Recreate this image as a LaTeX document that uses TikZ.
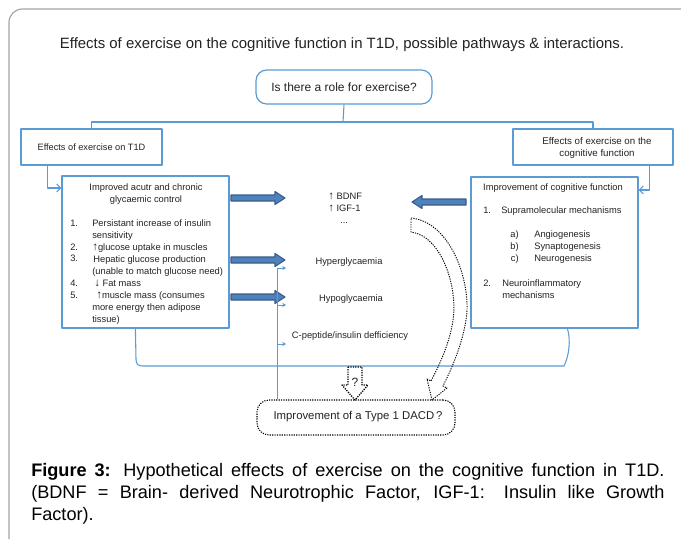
\documentclass[tikz,border=0pt]{standalone}
\usepackage{fontspec}
\setmainfont{Liberation Sans}
\usetikzlibrary{arrows.meta,fit,calc}
\definecolor{boxblue}{RGB}{91,155,213}
\definecolor{arrfill}{RGB}{79,129,189}
\definecolor{arrline}{RGB}{56,93,138}
\definecolor{framegray}{RGB}{165,165,165}
\definecolor{txtc}{RGB}{35,35,35}
\newcommand\uparr{{\fontsize{8.6}{9}\selectfont\char"2191}}
\newcommand\downarr{{\fontsize{8.6}{9}\selectfont\char"2193}}
\begin{document}
\begin{tikzpicture}[x=0.75pt,y=-0.75pt,line join=round,
  bx/.style={draw=boxblue,line width=0.9pt,inner sep=0pt},
  conn/.style={draw=boxblue,line width=0.8pt},
  tx/.style={inner sep=0pt,text=txtc,font=\fontsize{7}{9}\selectfont},
  blockarr/.style={fill=arrfill,draw=arrline,line width=0.8pt},
  dotl/.style={draw=black,line width=0.8pt,dash pattern=on 0.9pt off 0.9pt},
  barb/.style={-{Straight Barb[length=3pt,width=6pt]}},
  smarr/.style={-{Stealth[length=2.8pt,width=3.2pt]}}
]
\useasboundingbox (0,0) rectangle (681,539);
\fill[white] (0,0) rectangle (681,539);
\draw[framegray,line width=0.9pt,rounded corners=10pt] (9,539) -- (9,9) -- (681,9);

% title
\node[tx,font=\fontsize{11.2}{13}\selectfont] (title) at (342,45) {Effects of exercise on the cognitive function in T1D, possible pathways \& interactions.};

% boxes
\node[bx,rounded corners=8pt,fit={(256,70) (432,104)}] (q) {};
\node[tx,font=\fontsize{9}{10}\selectfont] (qt) at (q.center) {Is there a role for exercise?};
\node[bx,fit={(21,129) (162,165)}] (efft1d) {};
\node[tx,font=\fontsize{6.9}{8}\selectfont] (t1) at (efft1d.center) {Effects of exercise on T1D};
\node[bx,fit={(513,129) (673,165)}] (effcog) {};
\node[tx,font=\fontsize{7.3}{9}\selectfont,anchor=base] (t2a) at (597,144) {Effects of exercise on the};
\node[tx,font=\fontsize{7.3}{9}\selectfont,anchor=base] (t2b) at (597,156) {cognitive function};
\node[bx,fit={(62,176) (229,328)}] (lbox) {};
\node[bx,fit={(471,177) (638,328)}] (rbox) {};
\node[fit={(257,400) (455,435)},inner sep=0pt,dotl,rounded corners=9pt] (dacd) {};
\node[tx,font=\fontsize{8.5}{10}\selectfont] (dt) at (358,417) {Improvement of a Type 1 DACD\,?};

% tree connectors
\coordinate (junc) at (343,122);
\draw[conn] (q.south) -- (junc);
\draw[conn] (efft1d.north) |- (junc) -| (effcog.north);
\draw[conn,barb] (efft1d.south west) ++(27,0) |- (lbox.west |- 0,188);
\draw[conn,barb] (effcog.south west) ++(137,0) |- (rbox.east |- 0,190);

% left box text
\node[tx,anchor=base] (lh1) at (146,190) {Improved acutr and chronic};
\node[tx,anchor=base] (lh2) at (146,202) {glycaemic control};
\node[tx,anchor=base west] (n1) at (70,226) {1.};
\node[tx,anchor=base west] (n2) at (70,250) {2.};
\node[tx,anchor=base west] (n3) at (70,261) {3.};
\node[tx,anchor=base west] (n4) at (70,286) {4.};
\node[tx,anchor=base west] (n5) at (70,298) {5.};
\foreach \txt [count=\i] in {{Persistant increase of insulin},{sensitivity},{\textbf{\uparr}glucose uptake in muscles},{\hspace{0.8pt}Hepatic glucose production},{(unable to match glucose need)},{\hspace{1.5pt}\downarr\ Fat mass},{\hspace{3pt}\textbf{\uparr}muscle mass (consumes},{more energy then adipose},{tissue)}}
  \node[tx,anchor=base west] (ll\i) at (92,{226+12*(\i-1)}) {\txt};

% right box text
\node[tx,anchor=base] (rh) at (553,190) {Improvement of cognitive function};
\node[tx,anchor=base west] (m1) at (483,213) {1.};
\node[tx,anchor=base west] (m1t) at (501,213) {Supramolecular mechanisms};
\node[tx,anchor=base east] (ma) at (519,237) {a)};
\node[tx,anchor=base east] (mb) at (519,249) {b)};
\node[tx,anchor=base east] (mc) at (519,261) {c)};
\node[tx,anchor=base west] (mat) at (534,237) {Angiogenesis};
\node[tx,anchor=base west] (mbt) at (534,249) {Synaptogenesis};
\node[tx,anchor=base west] (mct) at (534,261) {Neurogenesis};
\node[tx,anchor=base west] (m2) at (483,286) {2.};
\node[tx,anchor=base west] (m2a) at (502,286) {Neuroinflammatory};
\node[tx,anchor=base west] (m2b) at (502,298) {mechanisms};

% centre texts
\node[tx,anchor=base west] (bdnf) at (328,199) {\uparr\ BDNF};
\node[tx,anchor=base west] (igf) at (328,211) {\uparr\ IGF-1};
\node[tx,anchor=base west] (dots) at (340,223) {...};
\node[tx] (hyper) at (349,262) {Hyperglycaemia};
\node[tx] (hypo) at (351,299) {Hypoglycaemia};
\node[tx] (cpep) at (350,336) {C-peptide/insulin defficiency};

% block arrows
\draw[blockarr] (231,195) -- (275,195) -- (275,191.5) -- (285,198) -- (275,204.5) -- (275,201) -- (231,201) -- cycle;
\draw[blockarr] (231,257) -- (275,257) -- (275,253.5) -- (285,260) -- (275,266.5) -- (275,263) -- (231,263) -- cycle;
\draw[blockarr] (231,294) -- (275,294) -- (275,290.5) -- (285,297) -- (275,303.5) -- (275,300) -- (231,300) -- cycle;
\draw[blockarr] (466,199) -- (422,199) -- (422,195.5) -- (412,202) -- (422,208.5) -- (422,205) -- (466,205) -- cycle;

% vertical line with small arrows
\coordinate (v1) at (277,268);
\coordinate (v2) at (277,305);
\coordinate (v3) at (277,344);
\draw[conn,line width=0.7pt] (v1) -- (v1 |- dacd.north);
\draw[conn,line width=0.7pt,smarr] (v1) -- ++(9,0);
\draw[conn,line width=0.7pt,smarr] (v2) -- ++(9,0);
\draw[conn,line width=0.7pt,smarr] (v3) -- ++(9,0);

% bracket under the two boxes
\coordinate (bl) at ($(lbox.south west)+(74,0)$);
\coordinate (br) at ($(rbox.south west)+(97,0)$);
\draw[conn] (bl) -- (136,359) .. controls (136,364) and (138,366) .. (143,366) -- (564,366) .. controls (569,356) and (571,340) .. (br);

% dotted question arrow
\draw[dotl,line width=1pt] (348,367) -- (362,367) -- (362,385) -- (368,385) -- (355,400) -- (342,385) -- (348,385) -- cycle;
\node[tx,font=\fontsize{9}{10}\selectfont] (qm) at (355,382) {?};

% dotted curved arrow
\draw[dotl,line width=0.7pt] (411,218) .. controls (452,222) and (472,285) .. (466,320) .. controls (462,345) and (452,368) .. (443,386) -- (447,388) -- (432,400) -- (427,379) -- (431,381) .. controls (440,364) and (450,342) .. (453,320) .. controls (458,288) and (442,236) .. (411,232) -- cycle;

% caption
\node[anchor=base west,inner sep=0pt,text width=475pt,align=justify,font=\fontsize{13.6}{16.5}\selectfont,text=black] (cap) at (31,476) {\textbf{Figure 3:} Hypothetical effects of exercise on the cognitive function in T1D.\linebreak (BDNF = Brain- derived Neurotrophic Factor, IGF-1: Insulin like Growth\linebreak Factor).};
\end{tikzpicture}
\end{document}
